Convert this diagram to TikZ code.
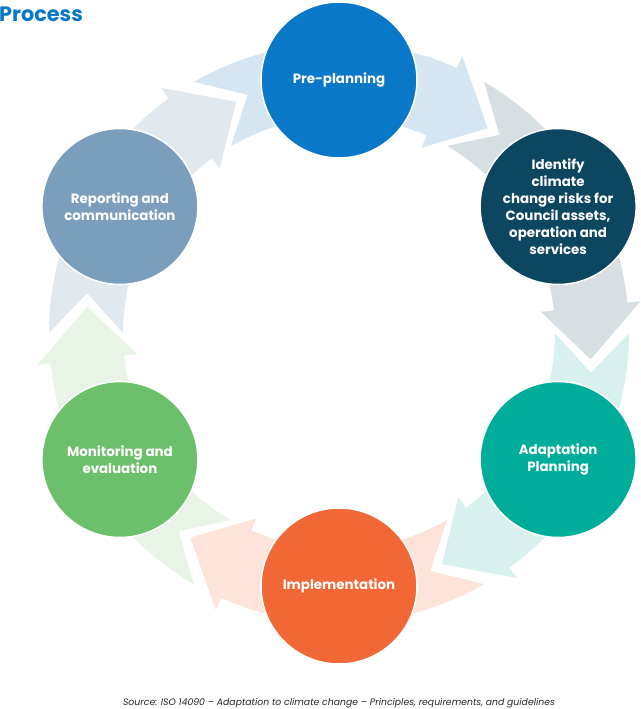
\documentclass[tikz,border=0pt]{standalone}
\usepackage{fontspec}
\setmainfont{Poppins}
\definecolor{cPre}{HTML}{0A78C8}
\definecolor{cId}{HTML}{0D4660}
\definecolor{cAd}{HTML}{00AD9A}
\definecolor{cIm}{HTML}{F26736}
\definecolor{cMo}{HTML}{6DC06B}
\definecolor{cRe}{HTML}{7B9EBD}
\definecolor{aPre}{HTML}{D5E5F1}
\definecolor{aId}{HTML}{D7DFE3}
\definecolor{aAd}{HTML}{D8F1EE}
\definecolor{aIm}{HTML}{FDE3DA}
\definecolor{aMo}{HTML}{E8F5E6}
\definecolor{aRe}{HTML}{E1E8EE}
\tikzset{
  stage/.style={circle, minimum size=156, inner sep=0pt, draw=white, line width=1.5pt,
    text=white, align=center, font=\bfseries\fontsize{13.4}{17}\selectfont},
}
\begin{document}
\begin{tikzpicture}[x=1pt,y=1pt]
\useasboundingbox (0,0) rectangle (640,709);
\fill[white] (0,0) rectangle (640,709);
\begin{scope}[shift={(339,376)}]
\foreach \a/\c in {90/aPre,30/aId,-30/aAd,-90/aIm,210/aMo,150/aRe}{
  \fill[\c] ({\a+30}:290) -- ({\a+21}:255) -- ({\a+30}:216)
    arc[start angle=\a+30, end angle=\a-24, radius=216]
    -- ({\a-24}:203) -- ({\a-36}:253) -- ({\a-24}:303) -- ({\a-24}:290)
    arc[start angle=\a-24, end angle=\a+30, radius=290] -- cycle;
}
\node[stage, fill=cPre] (pre) at (90:253) {Pre-planning};
\node[stage, fill=cId] (id) at (30:253) {Identify\\climate\\change risks for\\Council assets,\\operation and\\services};
\node[stage, fill=cAd] (ad) at (-30:253) {Adaptation\\Planning};
\node[stage, fill=cIm] (im) at (-90:253) {Implementation};
\node[stage, fill=cMo] (mo) at (210:253) {Monitoring and\\evaluation};
\node[stage, fill=cRe] (re) at (150:253) {Reporting and\\communication};
\end{scope}
\node[anchor=north west, inner sep=0pt, text=cPre, font=\bfseries\fontsize{20.8}{24}\selectfont] (title) at (-1,702) {Process};
\node[inner sep=0pt, text=black!85, font=\itshape\fontsize{9.3}{11}\selectfont] (src) at (339,6) {Source: ISO 14090 – Adaptation to climate change – Principles, requirements, and guidelines};
\end{tikzpicture}
\end{document}
